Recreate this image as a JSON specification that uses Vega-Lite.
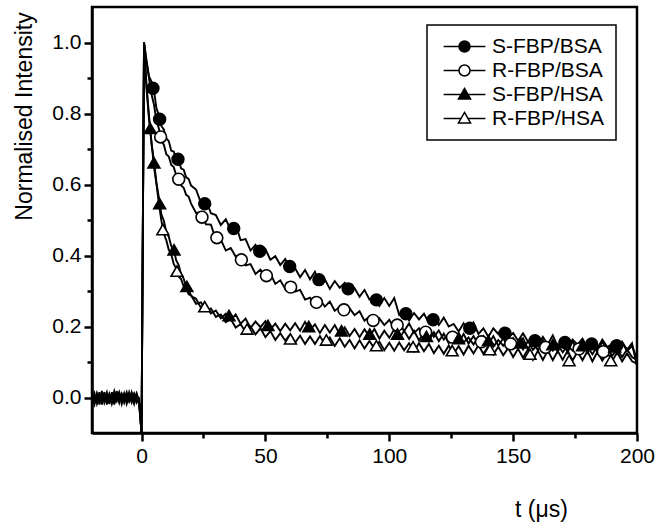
{
  "$schema": "https://vega.github.io/schema/vega-lite/v6.json",
  "width": 545,
  "height": 426,
  "autosize": "none",
  "padding": {"left": 92, "top": 7, "right": 30, "bottom": 95},
  "config": {
    "font": "Liberation Sans",
    "view": {"stroke": "black", "strokeWidth": 2.5},
    "axis": {"grid": false, "domainColor": "black", "domainWidth": 2.5, "tickColor": "black", "tickWidth": 2.5, "labelColor": "black", "labelFontSize": 21, "titleFontSize": 23, "titleFontWeight": "normal", "titleColor": "black", "labelFont": "Liberation Sans", "titleFont": "Liberation Sans"}
  },
  "datasets": {
    "curves": [
      {"t": -20, "a": 0.01, "b": -0.01, "c": 0.0, "d": -0.015},
      {"t": -19, "a": -0.015, "b": 0.012, "c": -0.02, "d": 0.005},
      {"t": -18, "a": 0.008, "b": -0.018, "c": 0.012, "d": -0.01},
      {"t": -17, "a": -0.02, "b": 0.005, "c": -0.008, "d": 0.015},
      {"t": -16, "a": 0.012, "b": -0.012, "c": 0.018, "d": -0.02},
      {"t": -15, "a": -0.005, "b": 0.015, "c": -0.015, "d": 0.008},
      {"t": -14, "a": 0.015, "b": -0.02, "c": 0.005, "d": -0.012},
      {"t": -13, "a": -0.018, "b": 0.008, "c": -0.012, "d": 0.01},
      {"t": -12, "a": 0.005, "b": -0.01, "c": 0.015, "d": -0.018},
      {"t": -11, "a": -0.012, "b": 0.018, "c": -0.02, "d": 0.006},
      {"t": -10, "a": 0.018, "b": -0.005, "c": 0.008, "d": -0.01},
      {"t": -9, "a": -0.008, "b": 0.012, "c": -0.015, "d": 0.015},
      {"t": -8, "a": 0.01, "b": -0.018, "c": 0.01, "d": -0.006},
      {"t": -7, "a": -0.015, "b": 0.006, "c": -0.005, "d": 0.012},
      {"t": -6, "a": 0.006, "b": -0.012, "c": 0.015, "d": -0.018},
      {"t": -5, "a": -0.01, "b": 0.015, "c": -0.01, "d": 0.005},
      {"t": -4, "a": 0.015, "b": -0.008, "c": 0.006, "d": -0.014},
      {"t": -3, "a": -0.006, "b": 0.01, "c": -0.018, "d": 0.01},
      {"t": -2, "a": 0.012, "b": -0.015, "c": 0.01, "d": -0.008},
      {"t": -1, "a": -0.01, "b": -0.005, "c": -0.012, "d": -0.015},
      {"t": 0, "a": -0.1, "b": -0.1, "c": -0.1, "d": -0.1},
      {"t": 1, "a": 1.0, "b": 1.0, "c": 1.0, "d": 1.0},
      {"t": 2, "a": 0.95, "b": 0.945, "c": 0.88, "d": 0.87},
      {"t": 3, "a": 0.905, "b": 0.9, "c": 0.795, "d": 0.785},
      {"t": 4, "a": 0.89, "b": 0.855, "c": 0.715, "d": 0.722},
      {"t": 5, "a": 0.865, "b": 0.825, "c": 0.668, "d": 0.65},
      {"t": 6, "a": 0.815, "b": 0.78, "c": 0.605, "d": 0.603},
      {"t": 7, "a": 0.795, "b": 0.758, "c": 0.563, "d": 0.546},
      {"t": 8, "a": 0.765, "b": 0.722, "c": 0.516, "d": 0.498},
      {"t": 9, "a": 0.755, "b": 0.712, "c": 0.498, "d": 0.462},
      {"t": 10, "a": 0.73, "b": 0.685, "c": 0.466, "d": 0.443},
      {"t": 11, "a": 0.722, "b": 0.679, "c": 0.453, "d": 0.416},
      {"t": 12, "a": 0.695, "b": 0.655, "c": 0.426, "d": 0.403},
      {"t": 13, "a": 0.693, "b": 0.649, "c": 0.418, "d": 0.376},
      {"t": 14, "a": 0.672, "b": 0.626, "c": 0.386, "d": 0.363},
      {"t": 15, "a": 0.668, "b": 0.618, "c": 0.373, "d": 0.341},
      {"t": 16, "a": 0.645, "b": 0.597, "c": 0.346, "d": 0.333},
      {"t": 17, "a": 0.642, "b": 0.591, "c": 0.335, "d": 0.313},
      {"t": 18, "a": 0.62, "b": 0.571, "c": 0.311, "d": 0.308},
      {"t": 19, "a": 0.616, "b": 0.566, "c": 0.305, "d": 0.291},
      {"t": 20, "a": 0.597, "b": 0.546, "c": 0.286, "d": 0.288},
      {"t": 22, "a": 0.586, "b": 0.52, "c": 0.278, "d": 0.264},
      {"t": 24, "a": 0.548, "b": 0.522, "c": 0.252, "d": 0.268},
      {"t": 26, "a": 0.557, "b": 0.488, "c": 0.26, "d": 0.245},
      {"t": 28, "a": 0.519, "b": 0.487, "c": 0.237, "d": 0.251},
      {"t": 30, "a": 0.514, "b": 0.445, "c": 0.245, "d": 0.227},
      {"t": 32, "a": 0.486, "b": 0.445, "c": 0.223, "d": 0.234},
      {"t": 34, "a": 0.502, "b": 0.414, "c": 0.236, "d": 0.212},
      {"t": 36, "a": 0.472, "b": 0.421, "c": 0.218, "d": 0.221},
      {"t": 38, "a": 0.488, "b": 0.397, "c": 0.234, "d": 0.197},
      {"t": 40, "a": 0.443, "b": 0.401, "c": 0.208, "d": 0.207},
      {"t": 42, "a": 0.446, "b": 0.372, "c": 0.222, "d": 0.184},
      {"t": 44, "a": 0.414, "b": 0.376, "c": 0.196, "d": 0.2},
      {"t": 46, "a": 0.43, "b": 0.348, "c": 0.214, "d": 0.178},
      {"t": 48, "a": 0.406, "b": 0.36, "c": 0.198, "d": 0.195},
      {"t": 50, "a": 0.418, "b": 0.34, "c": 0.215, "d": 0.17},
      {"t": 52, "a": 0.388, "b": 0.349, "c": 0.192, "d": 0.187},
      {"t": 54, "a": 0.398, "b": 0.32, "c": 0.208, "d": 0.162},
      {"t": 56, "a": 0.373, "b": 0.33, "c": 0.187, "d": 0.181},
      {"t": 58, "a": 0.39, "b": 0.306, "c": 0.208, "d": 0.16},
      {"t": 60, "a": 0.362, "b": 0.322, "c": 0.189, "d": 0.178},
      {"t": 62, "a": 0.364, "b": 0.298, "c": 0.209, "d": 0.155},
      {"t": 64, "a": 0.339, "b": 0.303, "c": 0.188, "d": 0.174},
      {"t": 66, "a": 0.359, "b": 0.276, "c": 0.213, "d": 0.151},
      {"t": 68, "a": 0.333, "b": 0.281, "c": 0.19, "d": 0.172},
      {"t": 70, "a": 0.354, "b": 0.258, "c": 0.206, "d": 0.151},
      {"t": 72, "a": 0.319, "b": 0.276, "c": 0.182, "d": 0.173},
      {"t": 74, "a": 0.333, "b": 0.256, "c": 0.204, "d": 0.15},
      {"t": 76, "a": 0.306, "b": 0.27, "c": 0.183, "d": 0.169},
      {"t": 78, "a": 0.328, "b": 0.244, "c": 0.204, "d": 0.145},
      {"t": 80, "a": 0.309, "b": 0.256, "c": 0.178, "d": 0.167},
      {"t": 82, "a": 0.323, "b": 0.234, "c": 0.198, "d": 0.143},
      {"t": 84, "a": 0.295, "b": 0.251, "c": 0.173, "d": 0.162},
      {"t": 86, "a": 0.308, "b": 0.232, "c": 0.193, "d": 0.138},
      {"t": 88, "a": 0.284, "b": 0.243, "c": 0.17, "d": 0.161},
      {"t": 90, "a": 0.303, "b": 0.216, "c": 0.192, "d": 0.138},
      {"t": 92, "a": 0.276, "b": 0.228, "c": 0.171, "d": 0.159},
      {"t": 94, "a": 0.281, "b": 0.204, "c": 0.193, "d": 0.138},
      {"t": 96, "a": 0.258, "b": 0.223, "c": 0.166, "d": 0.157},
      {"t": 98, "a": 0.28, "b": 0.204, "c": 0.188, "d": 0.133},
      {"t": 100, "a": 0.258, "b": 0.219, "c": 0.168, "d": 0.154},
      {"t": 102, "a": 0.28, "b": 0.195, "c": 0.192, "d": 0.132},
      {"t": 104, "a": 0.233, "b": 0.21, "c": 0.165, "d": 0.155},
      {"t": 106, "a": 0.244, "b": 0.187, "c": 0.188, "d": 0.133},
      {"t": 108, "a": 0.217, "b": 0.209, "c": 0.165, "d": 0.153},
      {"t": 110, "a": 0.238, "b": 0.182, "c": 0.188, "d": 0.13},
      {"t": 112, "a": 0.22, "b": 0.195, "c": 0.161, "d": 0.153},
      {"t": 114, "a": 0.236, "b": 0.173, "c": 0.182, "d": 0.13},
      {"t": 116, "a": 0.21, "b": 0.194, "c": 0.159, "d": 0.151},
      {"t": 118, "a": 0.226, "b": 0.171, "c": 0.184, "d": 0.125},
      {"t": 120, "a": 0.204, "b": 0.189, "c": 0.159, "d": 0.146},
      {"t": 122, "a": 0.225, "b": 0.163, "c": 0.18, "d": 0.123},
      {"t": 124, "a": 0.2, "b": 0.18, "c": 0.153, "d": 0.146},
      {"t": 126, "a": 0.207, "b": 0.16, "c": 0.178, "d": 0.123},
      {"t": 128, "a": 0.186, "b": 0.182, "c": 0.155, "d": 0.145},
      {"t": 130, "a": 0.209, "b": 0.155, "c": 0.179, "d": 0.121},
      {"t": 132, "a": 0.187, "b": 0.169, "c": 0.152, "d": 0.146},
      {"t": 134, "a": 0.211, "b": 0.149, "c": 0.173, "d": 0.124},
      {"t": 136, "a": 0.179, "b": 0.171, "c": 0.148, "d": 0.147},
      {"t": 138, "a": 0.195, "b": 0.149, "c": 0.173, "d": 0.123},
      {"t": 140, "a": 0.171, "b": 0.166, "c": 0.15, "d": 0.145},
      {"t": 142, "a": 0.195, "b": 0.143, "c": 0.173, "d": 0.121},
      {"t": 144, "a": 0.179, "b": 0.162, "c": 0.146, "d": 0.143},
      {"t": 146, "a": 0.195, "b": 0.146, "c": 0.167, "d": 0.119},
      {"t": 148, "a": 0.168, "b": 0.163, "c": 0.142, "d": 0.139},
      {"t": 150, "a": 0.182, "b": 0.14, "c": 0.167, "d": 0.114},
      {"t": 152, "a": 0.16, "b": 0.156, "c": 0.144, "d": 0.137},
      {"t": 154, "a": 0.181, "b": 0.135, "c": 0.167, "d": 0.112},
      {"t": 156, "a": 0.157, "b": 0.159, "c": 0.136, "d": 0.136},
      {"t": 158, "a": 0.165, "b": 0.134, "c": 0.161, "d": 0.106},
      {"t": 160, "a": 0.146, "b": 0.149, "c": 0.132, "d": 0.132},
      {"t": 162, "a": 0.171, "b": 0.13, "c": 0.162, "d": 0.106},
      {"t": 164, "a": 0.15, "b": 0.153, "c": 0.129, "d": 0.132},
      {"t": 166, "a": 0.175, "b": 0.132, "c": 0.159, "d": 0.105},
      {"t": 168, "a": 0.144, "b": 0.15, "c": 0.13, "d": 0.131},
      {"t": 170, "a": 0.161, "b": 0.127, "c": 0.162, "d": 0.106},
      {"t": 172, "a": 0.138, "b": 0.146, "c": 0.127, "d": 0.132},
      {"t": 174, "a": 0.163, "b": 0.132, "c": 0.159, "d": 0.104},
      {"t": 176, "a": 0.149, "b": 0.149, "c": 0.13, "d": 0.129},
      {"t": 178, "a": 0.166, "b": 0.126, "c": 0.16, "d": 0.105},
      {"t": 180, "a": 0.141, "b": 0.143, "c": 0.127, "d": 0.131},
      {"t": 182, "a": 0.158, "b": 0.122, "c": 0.155, "d": 0.102},
      {"t": 184, "a": 0.139, "b": 0.144, "c": 0.128, "d": 0.128},
      {"t": 186, "a": 0.163, "b": 0.122, "c": 0.158, "d": 0.104},
      {"t": 188, "a": 0.142, "b": 0.139, "c": 0.129, "d": 0.127},
      {"t": 190, "a": 0.151, "b": 0.118, "c": 0.155, "d": 0.103},
      {"t": 192, "a": 0.132, "b": 0.135, "c": 0.13, "d": 0.127},
      {"t": 194, "a": 0.157, "b": 0.114, "c": 0.154, "d": 0.102},
      {"t": 196, "a": 0.135, "b": 0.135, "c": 0.131, "d": 0.124},
      {"t": 198, "a": 0.153, "b": 0.114, "c": 0.145, "d": 0.102},
      {"t": 200, "a": 0.088, "b": 0.105, "c": 0.11, "d": 0.095}
    ],
    "markers": [
      {"series": "S-FBP/BSA", "t": 4.6, "v": 0.871},
      {"series": "S-FBP/BSA", "t": 7.3, "v": 0.784},
      {"series": "S-FBP/BSA", "t": 14.7, "v": 0.671},
      {"series": "S-FBP/BSA", "t": 25.5, "v": 0.546},
      {"series": "S-FBP/BSA", "t": 37.2, "v": 0.476},
      {"series": "S-FBP/BSA", "t": 47.7, "v": 0.412},
      {"series": "S-FBP/BSA", "t": 59.8, "v": 0.369},
      {"series": "S-FBP/BSA", "t": 71.6, "v": 0.332},
      {"series": "S-FBP/BSA", "t": 83.4, "v": 0.306},
      {"series": "S-FBP/BSA", "t": 94.8, "v": 0.275},
      {"series": "S-FBP/BSA", "t": 106.7, "v": 0.236},
      {"series": "S-FBP/BSA", "t": 117.7, "v": 0.219},
      {"series": "S-FBP/BSA", "t": 132.5, "v": 0.195},
      {"series": "S-FBP/BSA", "t": 146.7, "v": 0.181},
      {"series": "S-FBP/BSA", "t": 158.8, "v": 0.16},
      {"series": "S-FBP/BSA", "t": 170.9, "v": 0.155},
      {"series": "S-FBP/BSA", "t": 181.7, "v": 0.151},
      {"series": "S-FBP/BSA", "t": 191.8, "v": 0.146},
      {"series": "R-FBP/BSA", "t": 7.7, "v": 0.734},
      {"series": "R-FBP/BSA", "t": 15.0, "v": 0.615},
      {"series": "R-FBP/BSA", "t": 24.4, "v": 0.508},
      {"series": "R-FBP/BSA", "t": 30.4, "v": 0.45},
      {"series": "R-FBP/BSA", "t": 40.3, "v": 0.388},
      {"series": "R-FBP/BSA", "t": 50.4, "v": 0.343},
      {"series": "R-FBP/BSA", "t": 60.2, "v": 0.311},
      {"series": "R-FBP/BSA", "t": 70.6, "v": 0.268},
      {"series": "R-FBP/BSA", "t": 81.7, "v": 0.247},
      {"series": "R-FBP/BSA", "t": 93.5, "v": 0.217},
      {"series": "R-FBP/BSA", "t": 103.2, "v": 0.204},
      {"series": "R-FBP/BSA", "t": 114.7, "v": 0.184},
      {"series": "R-FBP/BSA", "t": 125.5, "v": 0.17},
      {"series": "R-FBP/BSA", "t": 137.2, "v": 0.157},
      {"series": "R-FBP/BSA", "t": 149.0, "v": 0.151},
      {"series": "R-FBP/BSA", "t": 163.1, "v": 0.141},
      {"series": "R-FBP/BSA", "t": 176.6, "v": 0.137},
      {"series": "R-FBP/BSA", "t": 186.4, "v": 0.129},
      {"series": "S-FBP/HSA", "t": 3.5, "v": 0.758},
      {"series": "S-FBP/HSA", "t": 5.0, "v": 0.661},
      {"series": "S-FBP/HSA", "t": 7.3, "v": 0.546},
      {"series": "S-FBP/HSA", "t": 13.1, "v": 0.416},
      {"series": "S-FBP/HSA", "t": 18.3, "v": 0.313},
      {"series": "S-FBP/HSA", "t": 35.3, "v": 0.231},
      {"series": "S-FBP/HSA", "t": 51.0, "v": 0.203},
      {"series": "S-FBP/HSA", "t": 67.5, "v": 0.2},
      {"series": "S-FBP/HSA", "t": 80.7, "v": 0.188},
      {"series": "S-FBP/HSA", "t": 92.1, "v": 0.179},
      {"series": "S-FBP/HSA", "t": 103.3, "v": 0.179},
      {"series": "S-FBP/HSA", "t": 115.0, "v": 0.172},
      {"series": "S-FBP/HSA", "t": 128.0, "v": 0.166},
      {"series": "S-FBP/HSA", "t": 140.0, "v": 0.16},
      {"series": "S-FBP/HSA", "t": 153.0, "v": 0.154},
      {"series": "S-FBP/HSA", "t": 166.0, "v": 0.149},
      {"series": "S-FBP/HSA", "t": 178.0, "v": 0.146},
      {"series": "S-FBP/HSA", "t": 191.0, "v": 0.143},
      {"series": "R-FBP/HSA", "t": 8.6, "v": 0.473},
      {"series": "R-FBP/HSA", "t": 14.3, "v": 0.356},
      {"series": "R-FBP/HSA", "t": 25.5, "v": 0.256},
      {"series": "R-FBP/HSA", "t": 42.6, "v": 0.193},
      {"series": "R-FBP/HSA", "t": 60.1, "v": 0.165},
      {"series": "R-FBP/HSA", "t": 74.6, "v": 0.162},
      {"series": "R-FBP/HSA", "t": 94.8, "v": 0.146},
      {"series": "R-FBP/HSA", "t": 109.6, "v": 0.143},
      {"series": "R-FBP/HSA", "t": 125.4, "v": 0.132},
      {"series": "R-FBP/HSA", "t": 140.6, "v": 0.135},
      {"series": "R-FBP/HSA", "t": 156.8, "v": 0.122},
      {"series": "R-FBP/HSA", "t": 172.6, "v": 0.104},
      {"series": "R-FBP/HSA", "t": 189.4, "v": 0.104}
    ]
  },
  "layer": [
    {
      "data": {"name": "curves"},
      "transform": [{"fold": ["a", "b", "c", "d"], "as": ["k", "v"]}],
      "mark": {"type": "line", "color": "black", "strokeWidth": 1.9, "clip": true},
      "encoding": {
        "x": {"field": "t", "type": "quantitative", "scale": {"domain": [-20, 200], "nice": false, "zero": false},
          "axis": {"values": [0, 50, 100, 150, 200], "tickSize": 8, "labelPadding": 4, "labelFlush": false, "labelOverlap": false, "title": "t (μs)", "titleX": 449, "titleY": 76, "titleAlign": "center", "titleBaseline": "middle"}},
        "y": {"field": "v", "type": "quantitative", "scale": {"domain": [-0.1, 1.1], "nice": false, "zero": false},
          "axis": {"values": [0, 0.2, 0.4, 0.6, 0.8, 1.0], "format": ".1f", "tickSize": 8, "labelPadding": 3, "labelFlush": false, "title": "Normalised Intensity", "titleX": -68, "titleY": 109, "titleAlign": "center", "titleBaseline": "middle", "titleAngle": 270}},
        "detail": {"field": "k", "type": "nominal"}
      }
    },
    {
      "data": {"name": "markers"},
      "mark": {"type": "point", "filled": true, "stroke": "black", "strokeWidth": 1.6, "size": 140, "opacity": 1},
      "encoding": {
        "x": {"field": "t", "type": "quantitative", "axis": {"orient": "bottom", "values": [25, 75, 125, 175], "tickSize": 5, "labels": false, "domain": false, "title": null}},
        "y": {"field": "v", "type": "quantitative", "axis": {"orient": "left", "values": [0.1, 0.3, 0.5, 0.7, 0.9], "tickSize": 5, "labels": false, "domain": false, "title": null}},
        "shape": {"field": "series", "type": "nominal", "scale": {"domain": ["S-FBP/BSA", "R-FBP/BSA", "S-FBP/HSA", "R-FBP/HSA"], "range": ["circle", "circle", "triangle-up", "triangle-up"]}, "legend": null},
        "fill": {"field": "series", "type": "nominal", "scale": {"domain": ["S-FBP/BSA", "R-FBP/BSA", "S-FBP/HSA", "R-FBP/HSA"], "range": ["black", "white", "black", "white"]}, "legend": null}
      }
    },
    {
      "data": {"name": "markers"},
      "transform": [{"filter": "datum.t > 1000"}],
      "mark": {"type": "point", "filled": true, "stroke": "black", "strokeWidth": 1.5},
      "encoding": {
        "x": {"field": "t", "type": "quantitative", "axis": null},
        "y": {"field": "v", "type": "quantitative", "axis": null},
        "shape": {"field": "series", "type": "nominal",
          "scale": {"domain": ["S-FBP/BSA", "R-FBP/BSA", "S-FBP/HSA", "R-FBP/HSA"],
            "range": ["M-3.8,0H-1M1,0H3.8M-1,0A1,1,0,1,0,1,0A1,1,0,1,0,-1,0Z", "M-3.8,0H-1M1,0H3.8M-1,0A1,1,0,1,0,1,0A1,1,0,1,0,-1,0Z", "M-3.8,0H-0.64M0.64,0H3.8M0,-1.1L1.1,0.8L-1.1,0.8Z", "M-3.8,0H-0.64M0.64,0H3.8M0,-1.1L1.1,0.8L-1.1,0.8Z"]},
          "legend": {"title": null, "orient": "none", "legendX": 335, "legendY": 18, "padding": 11, "strokeColor": "black", "symbolSize": 121, "symbolOffset": 16, "labelOffset": 17, "labelFontSize": 21, "labelFont": "Liberation Sans", "labelColor": "black", "rowPadding": 2, "symbolStrokeColor": "black", "symbolStrokeWidth": 1.5, "symbolOpacity": 1, "encode": {"legend": {"update": {"strokeWidth": {"value": 1.5}}}}}},
        "fill": {"field": "series", "type": "nominal",
          "scale": {"domain": ["S-FBP/BSA", "R-FBP/BSA", "S-FBP/HSA", "R-FBP/HSA"], "range": ["black", "white", "black", "white"]},
          "legend": {"title": null, "orient": "none", "legendX": 335, "legendY": 18, "padding": 11, "strokeColor": "black", "symbolSize": 121, "symbolOffset": 16, "labelOffset": 17, "labelFontSize": 21, "labelFont": "Liberation Sans", "labelColor": "black", "rowPadding": 2, "symbolStrokeColor": "black", "symbolStrokeWidth": 1.5, "symbolOpacity": 1, "encode": {"legend": {"update": {"strokeWidth": {"value": 1.5}}}}}}
      }
    }
  ],
  "resolve": {"scale": {"shape": "independent", "fill": "independent"}, "axis": {"x": "independent", "y": "independent"}}
}
